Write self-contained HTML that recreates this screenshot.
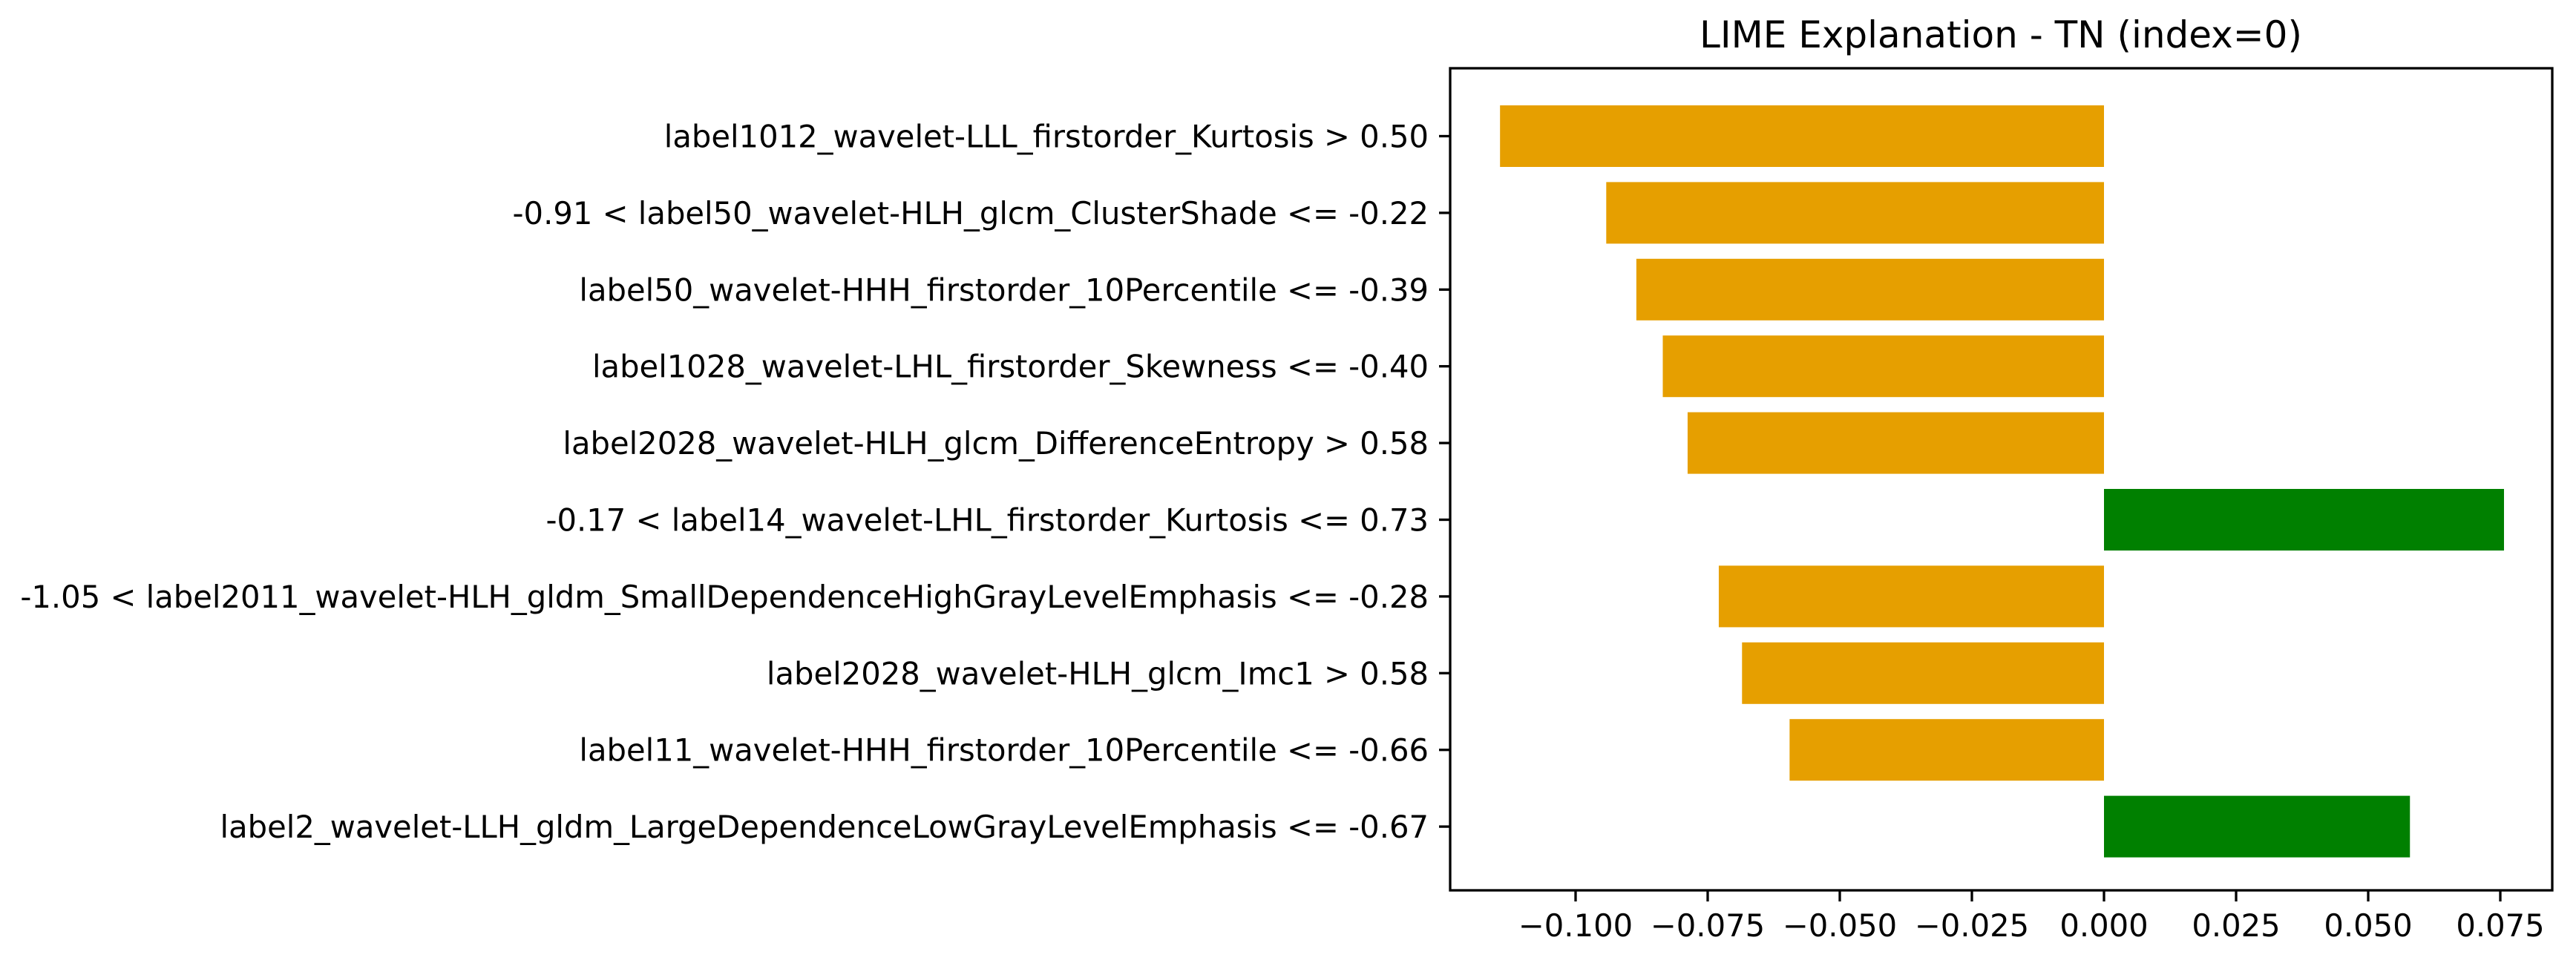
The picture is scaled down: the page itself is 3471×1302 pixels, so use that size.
<!DOCTYPE html>
<html><head><meta charset="utf-8"><style>html,body{margin:0;padding:0;background:#fff}svg{display:block}text{font-family:"DejaVu Sans","Liberation Sans",sans-serif;fill:#000}</style></head>
<body>
<svg id="chart" width="3471" height="1302" viewBox="0 0 3471 1302" xmlns="http://www.w3.org/2000/svg">
<rect width="3471" height="1302" fill="#fff"/>
<text x="2696" y="64" font-size="50" text-anchor="middle">LIME Explanation - TN (index=0)</text>
<g id="bars"></g>
<g id="yticks"></g>
<g id="xticks"></g>
<rect x="1954" y="92" width="1485" height="1108" fill="none" stroke="#000" stroke-width="3.3"/>
</svg>
<script>
const categories = [
"label1012_wavelet-LLL_firstorder_Kurtosis > 0.50",
"-0.91 < label50_wavelet-HLH_glcm_ClusterShade <= -0.22",
"label50_wavelet-HHH_firstorder_10Percentile <= -0.39",
"label1028_wavelet-LHL_firstorder_Skewness <= -0.40",
"label2028_wavelet-HLH_glcm_DifferenceEntropy > 0.58",
"-0.17 < label14_wavelet-LHL_firstorder_Kurtosis <= 0.73",
"-1.05 < label2011_wavelet-HLH_gldm_SmallDependenceHighGrayLevelEmphasis <= -0.28",
"label2028_wavelet-HLH_glcm_Imc1 > 0.58",
"label11_wavelet-HHH_firstorder_10Percentile <= -0.66",
"label2_wavelet-LLH_gldm_LargeDependenceLowGrayLevelEmphasis <= -0.67"
];
const values = [-0.1143,-0.0942,-0.0885,-0.0835,-0.0788,0.0757,-0.0729,-0.0685,-0.0595,0.0579];
const xTicks = [-0.1,-0.075,-0.05,-0.025,0,0.025,0.05,0.075];
const xTickLabels = ["\u22120.100","\u22120.075","\u22120.050","\u22120.025","0.000","0.025","0.050","0.075"];

const NS="http://www.w3.org/2000/svg";
const x = v => 2835 + v*7120;
const y = i => 183.5 + i*103.4;
const bh = 83;
function mk(tag, attrs){const e=document.createElementNS(NS,tag);for(const k in attrs)e.setAttribute(k,attrs[k]);return e;}
const gb=document.getElementById('bars'), gy=document.getElementById('yticks'), gx=document.getElementById('xticks');
values.forEach((v,i)=>{
  const r=mk('rect',{x:Math.min(x(0),x(v)),y:y(i)-bh/2,width:Math.abs(x(v)-x(0)),height:bh,fill:v<0?'#e69f00':'#008000'});
  
  
  gb.appendChild(r);
  const t=mk('line',{x1:1954,x2:1939,y1:y(i),y2:y(i),stroke:'#000','stroke-width':3.3});
  
  
  gy.appendChild(t);
  const l=mk('text',{x:1925,y:y(i)+15,'font-size':41.7,'text-anchor':'end'});
  l.textContent=categories[i];
  
  
  gy.appendChild(l);
});
xTicks.forEach((v,i)=>{
  const t=mk('line',{x1:x(v),x2:x(v),y1:1200,y2:1215,stroke:'#000','stroke-width':3.3});
  
  
  gx.appendChild(t);
  const l=mk('text',{x:x(v),y:1262,'font-size':41.7,'text-anchor':'middle'});
  l.textContent=xTickLabels[i];
  
  
  gx.appendChild(l);
});
</script>
</body></html>
